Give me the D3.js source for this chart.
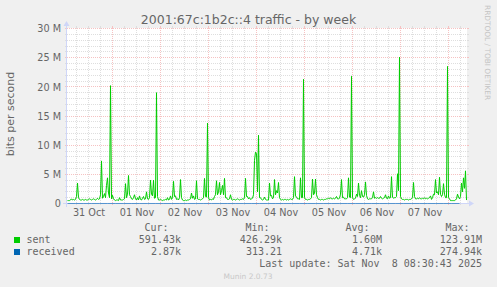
<!DOCTYPE html>
<html><head><meta charset="utf-8">
<script src="https://cdn.jsdelivr.net/npm/d3@7"></script>
<style>html,body{margin:0;padding:0;background:#f0f0f0;overflow:hidden}svg{display:block}</style>
</head><body>
<svg id="c" width="497" height="287"></svg>
<script>
// ---------- data ----------
const title = "2001:67c:1b2c::4 traffic - by week";
const yLabel = "bits per second";
const yTicks = [0, 5, 10, 15, 20, 25, 30];          // Mbit/s
const startTime = Date.UTC(2025, 9, 31, 1, 30);     // first sample
const stepMinutes = 30;
// sent, Mbit/s, one sample per 30 minutes
const sentM = [
  .5,.5,.5,.6,.8,.6,.7,.6,.7,1.2, 3.5,1.0,.7,.6,.6,.7,.6,.6,.7,.6,
  .6,.7,.8,.7,.6,.7,.8,.7,.6,.7, .9,.7,.8,1.5,7.3,.9,1.2,1.7,1.0,3.1,
  4.4,1.8,1.0,20.2,.8,1.4,.8,.6,.5,.6, .6,.5,1.0,.6,.6,.6,.7,.8,3.4,1.0,
  1.6,4.8,1.5,1.2,.8,.7,1.0,1.5,.8,.6, 1.0,.6,1.3,.7,.6,.9,1.2,.7,.8,2.0,
  .8,.7,1.0,4.0,1.6,1.3,4.0,.9,1.0,19.0, 1.2,.6,.6,.7,.6,.5,.6,.6,.7,.6,
  1.0,.6,.7,1.3,.7,1.0,3.8,1.2,1.3,.7, .8,.6,1.0,4.1,1.0,.6,.5,.5,.6,.5,
  .6,.6,.7,.8,1.8,.9,1.3,.7,.8,3.9, .8,.7,.7,.6,.7,.8,1.0,4.3,1.2,1.1,
  13.8,1.0,.6,.7,.6,.8,.7,1.2,1.5,3.9, 1.5,2.0,3.6,1.5,2.2,3.1,1.5,4.3,1.0,1.0,
  .7,.7,.8,1.5,.7,.6,.7,.7,.6,.7, .8,.7,.6,.7,.7,.8,.7,1.0,4.3,1.2,
  1.2,.8,1.0,.7,.8,.9,1.5,7.4,8.8,8.6, 2.0,11.7,1.0,1.0,.7,.6,.7,1.1,.7,.6,
  .6,.6,3.5,1.3,1.4,.8,1.0,4.1,1.5,2.2, 1.8,3.6,1.0,.7,.6,.7,.6,.7,.7,.6,
  .7,.6,.7,.8,.7,.7,1.0,4.6,1.3,1.1, .8,.8,.7,4.4,1.0,1.0,21.3,1.0,.7,.7,
  .6,.7,.7,.8,1.0,4.2,1.5,1.7,4.2,1.5, 1.0,.7,.7,.6,.7,.7,.6,.7,.7,.8,
  .8,.9,.8,1.0,.8,.8,.9,.8,.9,1.2, .8,.8,.9,1.6,4.1,1.0,1.1,.8,.8,.8,
  1.0,4.4,1.1,1.0,21.8,1.0,.7,.8,.9,1.6, 1.2,3.5,1.4,1.0,2.2,1.2,1.1,1.5,3.7,1.4,
  .8,.7,.8,.8,.8,1.0,2.0,.9,1.0,.9, 1.0,.9,.9,1.2,.9,.8,.9,1.0,1.5,.9,
  .8,1.3,.9,1.0,4.6,1.1,.9,1.0,1.0,1.2, 5.1,2.2,25.1,1.2,.8,.7,.7,.6,.7,.7,
  .7,.6,.7,.7,.8,1.0,3.6,1.2,.8,.8, .9,.8,1.0,.8,.8,.9,.8,1.0,.8,.9,
  .8,.9,1.0,1.3,.7,1.0,1.6,1.5,4.1,1.8, 2.0,1.5,4.5,1.6,1.2,1.5,3.4,1.6,1.0,1.0,
  23.5,1.0,.8,.5,.5,.5,.5,.5,.6,.8, 1.6,1.1,.8,1.2,3.5,2.0,4.4,2.6,5.6,.59
];
// received, Mbit/s, one sample per 4 hours
const receivedStepHours = 4;
const receivedM = [
  .003,.002,.003,.004,.003,.003,.005,.003,.002,.003,
  .004,.003,.003,.002,.003,.004,.003,.003,.006,.003,
  .002,.003,.003,.004,.003,.003,.002,.003,.005,.003,
  .003,.004,.003,.002,.003,.003,.004,.003,.003,.002,
  .003,.004,.003,.003,.005,.003,.002,.003,.003,.003
];
const seriesNames = ["sent", "received"];
const seriesColors = ["#00cc00", "#0066b3"];
const legendHeaders = ["Cur:", "Min:", "Avg:", "Max:"];
const legendValues = [
  ["591.43k", "426.29k", "1.60M", "123.91M"],
  ["2.87k", "313.21", "4.71k", "274.94k"]
];
const lastUpdate = "Last update: Sat Nov  8 08:30:43 2025";
const version = "Munin 2.0.73";
const watermark = "RRDTOOL / TOBI OETIKER";

// ---------- layout ----------
const X0 = 67, X1 = 467, Y0 = 203, Y1 = 28;
const FONT = "'DejaVu Sans', sans-serif";
const MONO = "'DejaVu Sans Mono', monospace";
const TXT = "#666666";
const svg = d3.select("#c");
svg.append("rect").attr("width", 497).attr("height", 287).attr("fill", "#f0f0f0");
svg.append("rect").attr("x", X0).attr("y", Y1).attr("width", X1 - X0).attr("height", Y0 - Y1).attr("fill", "#ffffff");

const stepMs = stepMinutes * 60000;
const endTime = startTime + sentM.length * stepMs;
const x = d3.scaleUtc().domain([startTime, endTime]).range([X0 + 0.5, X1 + 0.5]);
const y = d3.scaleLinear().domain([0, 30]).range([Y0 + 0.5, Y1 + 0.5]);

const grid = svg.append("g").attr("shape-rendering", "crispEdges");
const MINOR = "#dedede", MAJOR = "#f6c2c2";
function hLine(v, col) {
  const yy = y(v);
  grid.append("line").attr("x1", X0 - 2).attr("x2", X0).attr("y1", yy).attr("y2", yy).attr("stroke", col);
  grid.append("line").attr("x1", X1).attr("x2", X1 + 2).attr("y1", yy).attr("y2", yy).attr("stroke", col);
  grid.append("line").attr("x1", X0).attr("x2", X1).attr("y1", yy).attr("y2", yy).attr("stroke", col).attr("stroke-dasharray", "1,1");
}
function vLine(t, col) {
  const xx = Math.round(x(t) - 0.5) + 0.5;
  grid.append("line").attr("x1", xx).attr("x2", xx).attr("y1", Y0).attr("y2", Y0 + 2).attr("stroke", col);
  grid.append("line").attr("x1", xx).attr("x2", xx).attr("y1", Y1 - 2).attr("y2", Y1).attr("stroke", col);
  grid.append("line").attr("x1", xx).attr("x2", xx).attr("y1", Y1).attr("y2", Y0).attr("stroke", col).attr("stroke-dasharray", "1,1");
}
y.ticks(30).filter(v => v % 5 !== 0).forEach(v => hLine(v, MINOR));
d3.utcHour.every(6).range(startTime, endTime).filter(d => d.getUTCHours() !== 0).forEach(d => vLine(d, MINOR));
yTicks.filter(v => v > 0).forEach(v => hLine(v, MAJOR));
d3.utcDay.range(startTime, endTime).forEach(d => vLine(d, MAJOR));

// axes lines + arrows
const AX = "#cfd6f8";
const ax = svg.append("g").attr("shape-rendering", "crispEdges");
ax.append("line").attr("x1", X0 - 4).attr("x2", X1 + 4).attr("y1", Y0 + 0.5).attr("y2", Y0 + 0.5).attr("stroke", AX);
ax.append("line").attr("x1", X0 - 0.5).attr("x2", X0 - 0.5).attr("y1", Y0 + 4).attr("y2", Y1 - 4).attr("stroke", AX);
svg.append("path").attr("d", `M${X1 + 2},${Y0 - 2.5}L${X1 + 2},${Y0 + 3.5}L${X1 + 7},${Y0 + 0.5}Z`).attr("fill", AX);
svg.append("path").attr("d", `M${X0 - 3.5},${Y1 - 2}L${X0 + 2.5},${Y1 - 2}L${X0 - 0.5},${Y1 - 7}Z`).attr("fill", AX);

// series
const line = d3.line().x(d => x(d[0])).y(d => y(d[1]));
svg.append("path")
  .datum(sentM.map((v, i) => [startTime + i * stepMs, v]))
  .attr("d", line).attr("fill", "none").attr("stroke", seriesColors[0]).attr("stroke-width", 1);
const rStep = receivedStepHours * 3600000;
svg.append("path")
  .datum(receivedM.map((v, i) => [startTime + i * rStep, v]))
  .attr("d", line).attr("fill", "none").attr("stroke", seriesColors[1]).attr("stroke-width", 1).attr("opacity", 0.6);

// x axis labels (noon of each day)
const noon = d3.utcDay.range(d3.utcDay.floor(new Date(startTime)), new Date(endTime))
  .map(d => d3.utcHour.offset(d, 12)).filter(d => d >= startTime && d <= endTime);
const gx = svg.append("g").attr("transform", `translate(0,${Y0})`)
  .call(d3.axisBottom(x).tickValues(noon).tickFormat(d3.utcFormat("%d %b")).tickSize(0));
gx.select(".domain").remove();
gx.selectAll("text").attr("y", 13).attr("dy", 0).attr("fill", TXT)
  .style("font-family", FONT).style("font-size", "9.7px");

// y axis labels
const gy = svg.append("g").attr("transform", `translate(61,0)`)
  .call(d3.axisLeft(y).tickValues(yTicks).tickFormat(v => v === 0 ? "0" : v + " M").tickSize(0).tickPadding(0));
gy.select(".domain").remove();
gy.selectAll("text").attr("dy", "0.34em").attr("fill", TXT)
  .style("font-family", FONT).style("font-size", "9.7px");

// title & labels
svg.append("text").attr("x", 248.5).attr("y", 24).attr("text-anchor", "middle")
  .style("font-family", FONT).style("font-size", "12.5px").attr("fill", TXT).text(title);
svg.append("text").attr("transform", "translate(14,114) rotate(-90)").attr("text-anchor", "middle")
  .style("font-family", FONT).style("font-size", "11px").attr("fill", TXT).text(yLabel);
svg.append("text").attr("transform", "translate(485,5) rotate(90)").attr("text-anchor", "start")
  .style("font-family", FONT).style("font-size", "7.4px").attr("fill", "#c4c4c4").text(watermark);

// legend
const colRight = [181, 282, 382, 482];
legendHeaders.forEach((h, i) => {
  svg.append("text").attr("x", colRight[i] - 12.5).attr("y", 231).attr("text-anchor", "end")
    .style("font-family", MONO).style("font-size", "10px").attr("fill", TXT).text(h);
});
seriesNames.forEach((n, r) => {
  const by = 243 + r * 12;
  svg.append("rect").attr("x", 14).attr("y", by - 6).attr("width", 6).attr("height", 6).attr("fill", seriesColors[r]);
  svg.append("text").attr("x", 26.5).attr("y", by)
    .style("font-family", MONO).style("font-size", "10px").attr("fill", TXT).text(n);
  legendValues[r].forEach((v, i) => {
    svg.append("text").attr("x", colRight[i]).attr("y", by).attr("text-anchor", "end")
      .style("font-family", MONO).style("font-size", "10px").attr("fill", TXT).text(v);
  });
});
svg.append("text").attr("x", 482).attr("y", 266.5).attr("text-anchor", "end")
  .style("font-family", MONO).style("font-size", "10px").style("white-space", "pre").attr("fill", TXT).text(lastUpdate);
svg.append("text").attr("x", 248).attr("y", 278.5).attr("text-anchor", "middle")
  .style("font-family", FONT).style("font-size", "7.5px").attr("fill", "#c8c8c8").text(version);
</script>
</body></html>
